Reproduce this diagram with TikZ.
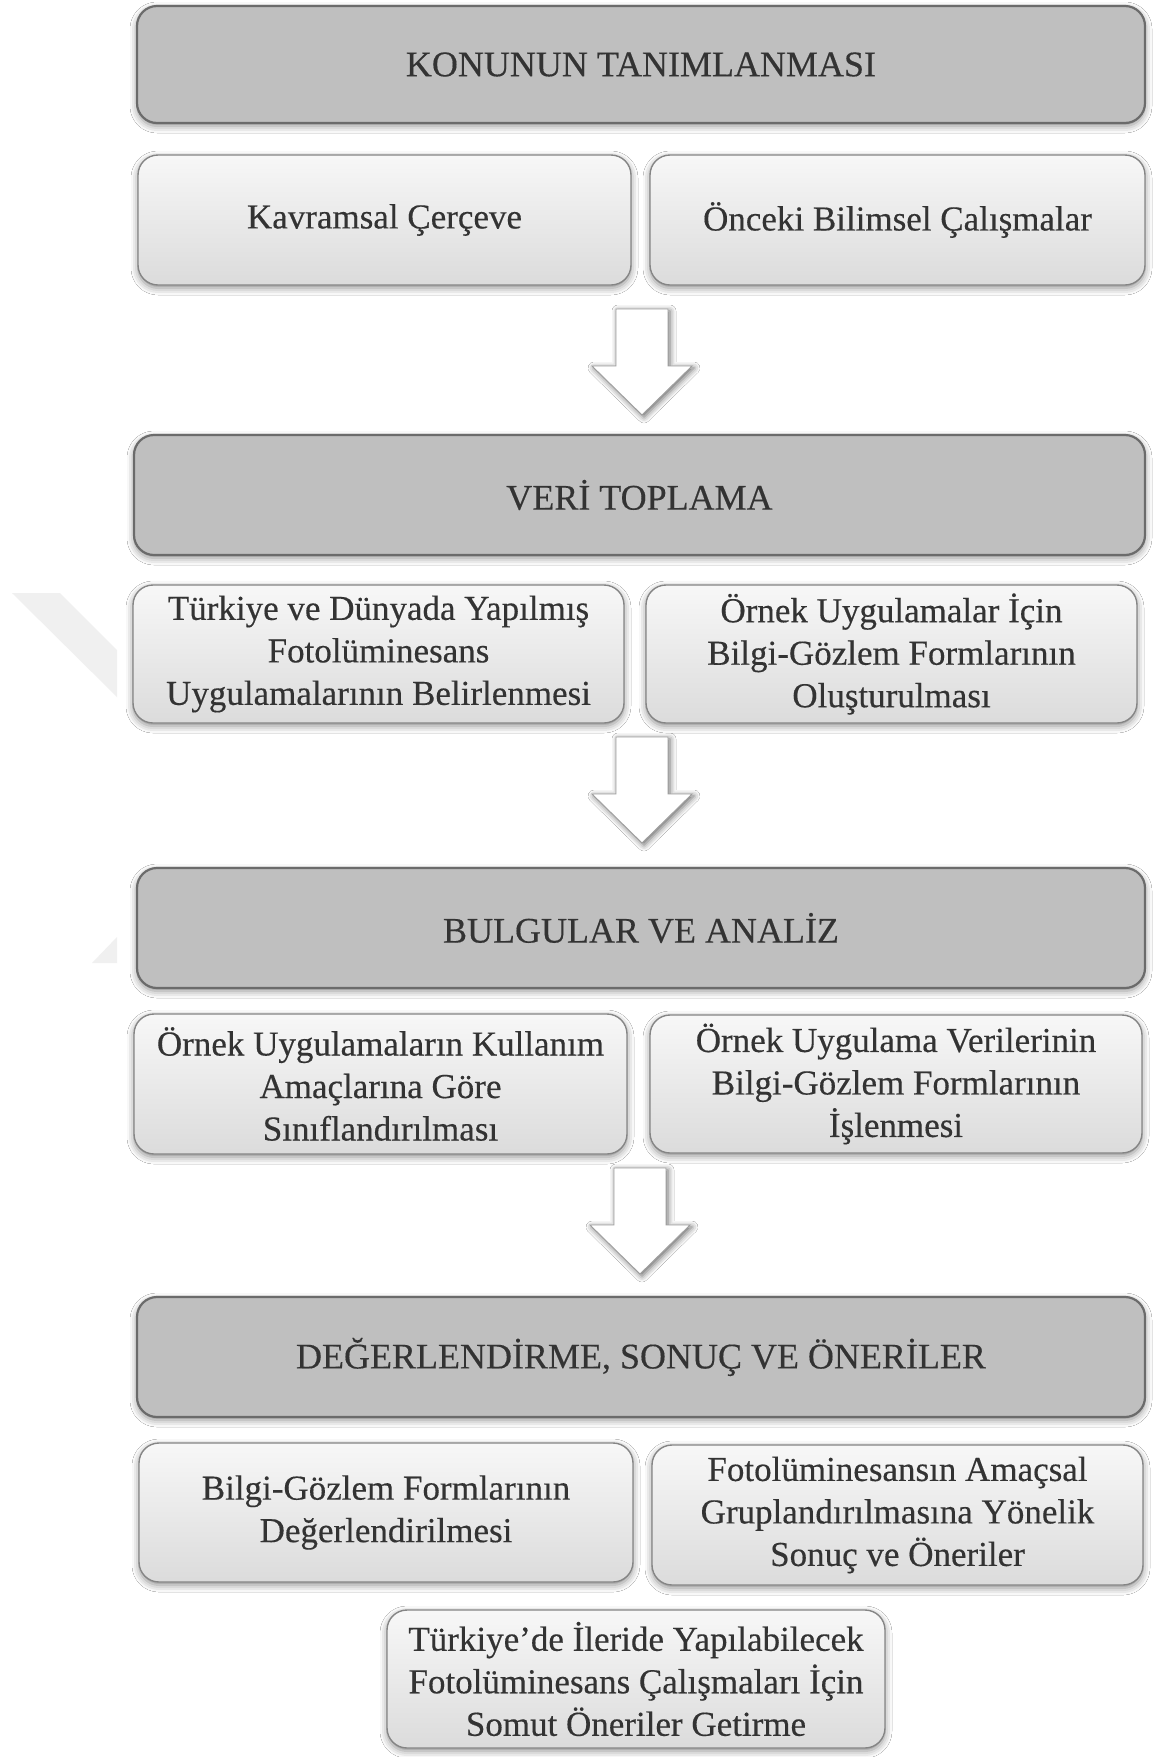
\documentclass[tikz,border=0pt]{standalone}
\usepackage{fontspec}
\setmainfont{Liberation Serif}[FakeBold=0.35]
\usetikzlibrary{shadows.blur}
\tikzset{
  softshadow/.style={blur shadow={shadow xshift=0pt,shadow yshift=-3pt,shadow blur radius=7pt,shadow opacity=45}},
  hdr/.style={draw=black!58, line width=2.2pt, fill=black!25, rounded corners=20pt, softshadow,
    text=black!80, font=\fontsize{36}{43}\selectfont, inner sep=0pt, align=center},
  sub/.style={draw=black!48, line width=1.4pt, top color=black!3, bottom color=black!14, rounded corners=20pt, softshadow,
    text=black!80, font=\fontsize{35}{42.5}\selectfont, align=center, inner sep=0pt},
  bigarrow/.style={fill=white, draw=black!38, line width=0.9pt, blur shadow={shadow xshift=2pt,shadow yshift=-2pt,shadow blur radius=6pt,shadow opacity=60}},
  bigdown/.pic={\path[bigarrow] (-26,0) -- (26,0) -- (26,57) -- (50,57) -- (0,106) -- (-50,57) -- (-26,57) -- cycle;}
}
\begin{document}
\begin{tikzpicture}[x=1pt,y=-1pt]
\useasboundingbox (0,0) rectangle (1155,1757);
\fill[white] (0,0) rectangle (1155,1757);
% faint watermark
\fill[black!6] (12,593) -- (60,593) -- (117,650) -- (117,697) -- cycle;
\fill[black!6] (92,963) -- (117,937) -- (117,963) -- cycle;

\node[hdr, minimum width=1008pt, minimum height=117pt] (h1) at (641,64.5) {KONUNUN TANIMLANMASI};
\node[sub, minimum width=493pt, minimum height=130pt] (r1l) at (384.5,220) {Kavramsal Çerçeve};
\node[sub, minimum width=495pt, minimum height=130pt] (r1r) at (897.5,220) {Önceki Bilimsel Çalışmalar};

\coordinate (a1) at (642,309);
\pic at (a1) {bigdown};

\node[hdr, minimum width=1011pt, minimum height=120pt] (h2) at (639.5,495) {VERİ TOPLAMA};
\node[sub, minimum width=491pt, minimum height=138pt] (r2l) at (378.5,654) {Türkiye ve Dünyada Yapılmış\\Fotolüminesans\\Uygulamalarının Belirlenmesi};
\node[sub, minimum width=491pt, minimum height=138pt] (r2r) at (891.5,654) {Örnek Uygulamalar İçin\\Bilgi-Gözlem Formlarının\\Oluşturulması};

\coordinate (a2) at (642,737);
\pic at (a2) {bigdown};

\node[hdr, minimum width=1008pt, minimum height=120pt] (h3) at (641,928) {BULGULAR VE ANALİZ};
\node[sub, minimum width=493pt, minimum height=140pt] (r3l) at (380.5,1084) {Örnek Uygulamaların Kullanım\\Amaçlarına Göre\\Sınıflandırılması};
\node[sub, minimum width=492pt, minimum height=138pt] (r3r) at (896,1084) {Örnek Uygulama Verilerinin\\Bilgi-Gözlem Formlarının\\İşlenmesi};

\coordinate (a3) at (640,1168);
\pic at (a3) {bigdown};

\node[hdr, minimum width=1008pt, minimum height=120pt] (h4) at (641,1357) {DEĞERLENDİRME, SONUÇ VE ÖNERİLER};
\node[sub, minimum width=494pt, minimum height=139pt] (r4l) at (386,1512.5) {Bilgi-Gözlem Formlarının\\Değerlendirilmesi};
\node[sub, minimum width=491pt, minimum height=140pt] (r4r) at (897.5,1515) {Fotolüminesansın Amaçsal\\Gruplandırılmasına Yönelik\\Sonuç ve Öneriler};

\node[sub, minimum width=498pt, minimum height=138pt] (b5) at (636,1679) {Türkiye’de İleride Yapılabilecek\\Fotolüminesans Çalışmaları İçin\\Somut Öneriler Getirme};
\end{tikzpicture}
\end{document}
